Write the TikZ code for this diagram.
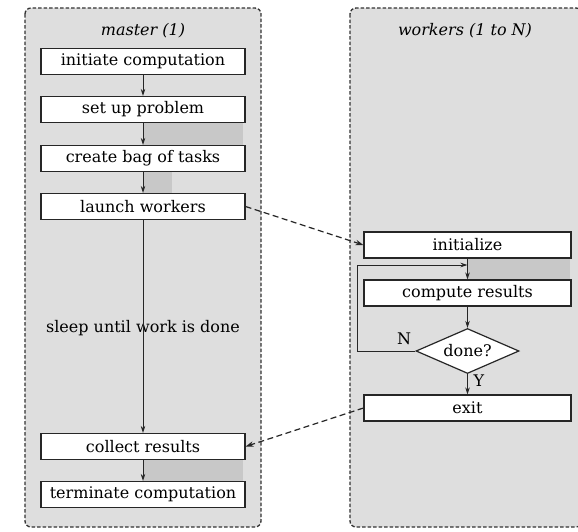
\documentclass[tikz,border=0pt]{standalone}
\usepackage{fontspec}
\setmainfont{DejaVu Serif}
\usetikzlibrary{shapes.geometric,arrows.meta}
\definecolor{panelgray}{RGB}{222,222,222}
\definecolor{patchgray}{RGB}{200,200,200}
\tikzset{
  panel/.style={draw=black!80,dash pattern=on 3.5pt off 2pt,line width=1.3pt,rounded corners=6pt,fill=panelgray},
  stepbox/.style={draw=black!85,line width=1.2pt,fill=white,minimum height=26pt,inner sep=0pt,font=\fontsize{16}{18}\selectfont},
  decision/.style={diamond,aspect=2.3,draw=black!85,line width=1.2pt,fill=white,inner sep=0pt,minimum width=103pt,minimum height=45pt,font=\fontsize{16}{18}\selectfont},
  flow/.style={draw=black!85,line width=0.9pt,-{Stealth[length=7pt,width=4.5pt]}},
  msg/.style={draw=black!85,line width=1.2pt,dash pattern=on 6pt off 3.5pt,-{Stealth[length=8pt,width=5.5pt]}},
  ttl/.style={font=\fontsize{16}{18}\selectfont\itshape},
  lbl/.style={font=\fontsize{16}{18}\selectfont},
  patch/.style={fill=patchgray,draw=none}
}
\begin{document}
\begin{tikzpicture}[x=1pt,y=-1pt]
\useasboundingbox (0,0) rectangle (578,531);
% panels
\draw[panel] (25,8) rectangle (261,527);
\draw[panel] (350,8) rectangle (582,527);
% patches
\fill[patch] (143,123) rectangle (243,145);
\fill[patch] (143,172) rectangle (172,193);
\fill[patch] (468,258) rectangle (570,279);
\fill[patch] (143,460) rectangle (243,481);
% titles
\node[ttl] (tm) at (143,31) {master (1)};
\node[ttl] (tw) at (465,31) {workers (1 to \textit{N})};
% master boxes
\node[stepbox,minimum width=204pt] (init) at (143,61.5) {initiate computation};
\node[stepbox,minimum width=204pt] (setup) at (143,109.5) {set up problem};
\node[stepbox,minimum width=204pt] (bag) at (143,158.5) {create bag of tasks};
\node[stepbox,minimum width=204pt] (launch) at (143,206.5) {launch workers};
\node[stepbox,minimum width=204pt] (collect) at (143,446.5) {collect results};
\node[stepbox,minimum width=204pt] (term) at (143,494.5) {terminate computation};
\node[lbl] (sleep) at (143,328) {sleep until work is done};
% worker boxes
\node[stepbox,minimum width=207pt] (winit) at (467.5,245) {initialize};
\node[stepbox,minimum width=207pt] (comp) at (467.5,293) {compute results};
\node[decision] (done) at (467.5,351) {done?};
\node[stepbox,minimum width=207pt] (exit) at (467.5,408) {exit};
% master flow
\draw[flow] (init) -- (setup);
\draw[flow] (setup) -- (bag);
\draw[flow] (bag) -- (launch);
\draw[flow] (launch) -- (collect);
\draw[flow] (collect) -- (term);
% worker flow
\coordinate (join) at (467.5,265);
\coordinate (loopl) at (357,351);
\coordinate (loopt) at (357,265);
\draw[flow] (winit) -- (comp);
\draw[flow] (comp) -- (done);
\draw[flow] (done.west) -- (loopl) -- (loopt) -- (join);
\draw[flow] (done) -- (exit);
\node[lbl] (nlab) at (404,339) {N};
\node[lbl] (ylab) at (479,381) {Y};
% messages
\draw[msg] (launch.east) -- (winit.west);
\draw[msg] (exit.west) -- (collect.east);
\end{tikzpicture}
\end{document}
